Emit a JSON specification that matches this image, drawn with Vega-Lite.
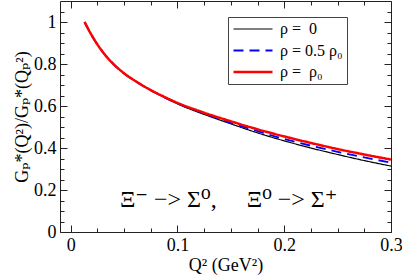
{
  "$schema": "https://vega.github.io/schema/vega-lite/v6.json",
  "width": 331,
  "height": 231,
  "autosize": "none",
  "padding": {"left": 60, "top": 1, "right": 11, "bottom": 44},
  "background": "white",
  "config": {
    "view": {"stroke": "#222", "strokeWidth": 1},
    "font": "Liberation Serif, Times New Roman, DejaVu Serif, serif",
    "axis": {
      "labelFont": "Liberation Serif, Times New Roman, DejaVu Serif, serif",
      "titleFont": "Liberation Serif, Times New Roman, DejaVu Serif, serif",
      "labelFontSize": 18,
      "titleFontSize": 18,
      "labelColor": "black",
      "titleColor": "black",
      "titleFontWeight": "normal",
      "domain": false,
      "grid": false,
      "tickColor": "#222",
      "tickWidth": 1,
      "labelOverlap": false,
      "labelFlush": false
    }
  },
  "datasets": {
    "curves": [
      {"x": 0.013, "y": 1.0, "series": "ρ =\u00a0\u00a00"},
      {"x": 0.02, "y": 0.934, "series": "ρ =\u00a0\u00a00"},
      {"x": 0.031, "y": 0.851, "series": "ρ =\u00a0\u00a00"},
      {"x": 0.04, "y": 0.8, "series": "ρ =\u00a0\u00a00"},
      {"x": 0.05, "y": 0.755, "series": "ρ =\u00a0\u00a00"},
      {"x": 0.0625, "y": 0.712, "series": "ρ =\u00a0\u00a00"},
      {"x": 0.075, "y": 0.674, "series": "ρ =\u00a0\u00a00"},
      {"x": 0.0875, "y": 0.641, "series": "ρ =\u00a0\u00a00"},
      {"x": 0.1, "y": 0.61, "series": "ρ =\u00a0\u00a00"},
      {"x": 0.125, "y": 0.56, "series": "ρ =\u00a0\u00a00"},
      {"x": 0.15, "y": 0.515, "series": "ρ =\u00a0\u00a00"},
      {"x": 0.175, "y": 0.472, "series": "ρ =\u00a0\u00a00"},
      {"x": 0.2, "y": 0.434, "series": "ρ =\u00a0\u00a00"},
      {"x": 0.225, "y": 0.4, "series": "ρ =\u00a0\u00a00"},
      {"x": 0.25, "y": 0.369, "series": "ρ =\u00a0\u00a00"},
      {"x": 0.275, "y": 0.34, "series": "ρ =\u00a0\u00a00"},
      {"x": 0.3, "y": 0.314, "series": "ρ =\u00a0\u00a00"},
      {"x": 0.013, "y": 1.0, "series": "ρ = 0.5 ρ₀"},
      {"x": 0.02, "y": 0.934, "series": "ρ = 0.5 ρ₀"},
      {"x": 0.031, "y": 0.851, "series": "ρ = 0.5 ρ₀"},
      {"x": 0.04, "y": 0.8, "series": "ρ = 0.5 ρ₀"},
      {"x": 0.05, "y": 0.755, "series": "ρ = 0.5 ρ₀"},
      {"x": 0.0625, "y": 0.712, "series": "ρ = 0.5 ρ₀"},
      {"x": 0.075, "y": 0.675, "series": "ρ = 0.5 ρ₀"},
      {"x": 0.0875, "y": 0.642, "series": "ρ = 0.5 ρ₀"},
      {"x": 0.1, "y": 0.612, "series": "ρ = 0.5 ρ₀"},
      {"x": 0.125, "y": 0.564, "series": "ρ = 0.5 ρ₀"},
      {"x": 0.15, "y": 0.52, "series": "ρ = 0.5 ρ₀"},
      {"x": 0.175, "y": 0.48, "series": "ρ = 0.5 ρ₀"},
      {"x": 0.2, "y": 0.443, "series": "ρ = 0.5 ρ₀"},
      {"x": 0.225, "y": 0.411, "series": "ρ = 0.5 ρ₀"},
      {"x": 0.25, "y": 0.382, "series": "ρ = 0.5 ρ₀"},
      {"x": 0.275, "y": 0.355, "series": "ρ = 0.5 ρ₀"},
      {"x": 0.3, "y": 0.33, "series": "ρ = 0.5 ρ₀"},
      {"x": 0.013, "y": 1.0, "series": "ρ =\u00a0\u00a0ρ₀"},
      {"x": 0.02, "y": 0.934, "series": "ρ =\u00a0\u00a0ρ₀"},
      {"x": 0.031, "y": 0.851, "series": "ρ =\u00a0\u00a0ρ₀"},
      {"x": 0.04, "y": 0.8, "series": "ρ =\u00a0\u00a0ρ₀"},
      {"x": 0.05, "y": 0.756, "series": "ρ =\u00a0\u00a0ρ₀"},
      {"x": 0.0625, "y": 0.713, "series": "ρ =\u00a0\u00a0ρ₀"},
      {"x": 0.075, "y": 0.676, "series": "ρ =\u00a0\u00a0ρ₀"},
      {"x": 0.0875, "y": 0.644, "series": "ρ =\u00a0\u00a0ρ₀"},
      {"x": 0.1, "y": 0.615, "series": "ρ =\u00a0\u00a0ρ₀"},
      {"x": 0.125, "y": 0.568, "series": "ρ =\u00a0\u00a0ρ₀"},
      {"x": 0.15, "y": 0.527, "series": "ρ =\u00a0\u00a0ρ₀"},
      {"x": 0.175, "y": 0.489, "series": "ρ =\u00a0\u00a0ρ₀"},
      {"x": 0.2, "y": 0.455, "series": "ρ =\u00a0\u00a0ρ₀"},
      {"x": 0.225, "y": 0.424, "series": "ρ =\u00a0\u00a0ρ₀"},
      {"x": 0.25, "y": 0.395, "series": "ρ =\u00a0\u00a0ρ₀"},
      {"x": 0.275, "y": 0.369, "series": "ρ =\u00a0\u00a0ρ₀"},
      {"x": 0.3, "y": 0.345, "series": "ρ =\u00a0\u00a0ρ₀"}
    ],
    "note": [
      {"x": 0.148, "y": 0.119, "label": "Ξ⁻ −> Σ⁰,\u00a0\u00a0\u00a0\u00a0 Ξ⁰ −> Σ⁺"}
    ]
  },
  "layer": [
    {
      "data": {"name": "curves"},
      "mark": {"type": "line", "interpolate": "monotone"},
      "encoding": {
        "x": {
          "field": "x", "type": "quantitative",
          "scale": {"domain": [-0.01, 0.3], "nice": false, "zero": false},
          "axis": {
            "orient": "bottom",
            "title": "Q² (GeV²)",
            "values": [0, 0.1, 0.2, 0.3],
            "format": ".1~f",
            "tickSize": -7,
            "labelPadding": 11,
            "titlePadding": 2
          }
        },
        "y": {
          "field": "y", "type": "quantitative",
          "scale": {"domain": [0, 1.1], "nice": false},
          "axis": {
            "orient": "left",
            "title": "Gₚ*(Q²)/Gₚ*(Qₚ²)",
            "values": [0, 0.2, 0.4, 0.6, 0.8, 1],
            "format": ".1~f",
            "tickSize": -7,
            "labelPadding": 11,
            "titlePadding": 2
          }
        },
        "color": {
          "field": "series", "type": "nominal",
          "scale": {"domain": ["ρ =\u00a0\u00a00", "ρ = 0.5 ρ₀", "ρ =\u00a0\u00a0ρ₀"], "range": ["black", "#0000ff", "#ff0000"]},
          "legend": {
            "title": null,
            "orient": "none",
            "legendX": 168,
            "legendY": 16,
            "strokeColor": "#444",
            "fillColor": "white",
            "padding": 4,
            "symbolType": "stroke",
            "symbolSize": 1521,
            "clipHeight": 16,
            "rowPadding": 5.5,
            "labelFont": "Liberation Serif, Times New Roman, DejaVu Serif, serif",
            "labelFontSize": 16,
            "labelColor": "black",
            "labelOffset": 6,
            "labelLimit": 300
          }
        },
        "strokeDash": {
          "field": "series", "type": "nominal",
          "scale": {"domain": ["ρ =\u00a0\u00a00", "ρ = 0.5 ρ₀", "ρ =\u00a0\u00a0ρ₀"], "range": [[1, 0], [10, 6], [1, 0]]},
          "legend": {"title": null}
        },
        "strokeWidth": {
          "field": "series", "type": "nominal",
          "scale": {"domain": ["ρ =\u00a0\u00a00", "ρ = 0.5 ρ₀", "ρ =\u00a0\u00a0ρ₀"], "range": [1.2, 2.5, 2.5]},
          "legend": {"title": null}
        }
      }
    },
    {
      "data": {"name": "note"},
      "mark": {"type": "text", "font": "Liberation Serif, Times New Roman, DejaVu Serif, serif", "fontSize": 24, "align": "center", "baseline": "alphabetic", "color": "black"},
      "encoding": {
        "x": {
          "field": "x", "type": "quantitative",
          "axis": {"orient": "top", "title": null, "labels": false, "values": [0, 0.1, 0.2, 0.3], "tickSize": -7}
        },
        "y": {
          "field": "y", "type": "quantitative",
          "axis": {"orient": "right", "title": null, "labels": false, "values": [0, 0.2, 0.4, 0.6, 0.8, 1], "tickSize": -7}
        },
        "text": {"field": "label"}
      }
    },
    {
      "data": {"name": "note"},
      "mark": {"type": "text", "opacity": 0},
      "encoding": {
        "x": {
          "field": "x", "type": "quantitative",
          "axis": {"orient": "bottom", "title": null, "labels": false, "values": [0.025, 0.05, 0.075, 0.125, 0.15, 0.175, 0.225, 0.25, 0.275], "tickSize": -4}
        },
        "y": {
          "field": "y", "type": "quantitative",
          "axis": {"orient": "left", "title": null, "labels": false, "values": [0.05, 0.1, 0.15, 0.25, 0.3, 0.35, 0.45, 0.5, 0.55, 0.65, 0.7, 0.75, 0.85, 0.9, 0.95, 1.05], "tickSize": -4}
        },
        "text": {"value": ""}
      }
    },
    {
      "data": {"name": "note"},
      "mark": {"type": "text", "opacity": 0},
      "encoding": {
        "x": {
          "field": "x", "type": "quantitative",
          "axis": {"orient": "top", "title": null, "labels": false, "values": [0.025, 0.05, 0.075, 0.125, 0.15, 0.175, 0.225, 0.25, 0.275], "tickSize": -4}
        },
        "y": {
          "field": "y", "type": "quantitative",
          "axis": {"orient": "right", "title": null, "labels": false, "values": [0.05, 0.1, 0.15, 0.25, 0.3, 0.35, 0.45, 0.5, 0.55, 0.65, 0.7, 0.75, 0.85, 0.9, 0.95, 1.05], "tickSize": -4}
        },
        "text": {"value": ""}
      }
    }
  ],
  "resolve": {"axis": {"x": "independent", "y": "independent"}}
}
